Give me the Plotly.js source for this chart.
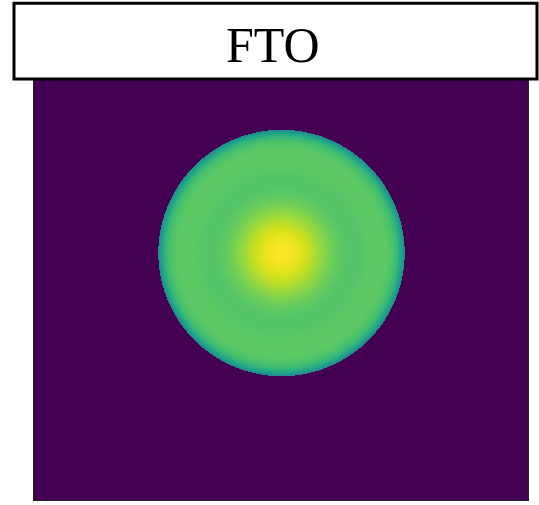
<!DOCTYPE html>
<html>
<head>
<meta charset="utf-8">
<script src="https://cdn.plot.ly/plotly-3.0.1.min.js"></script>
<style>html,body{margin:0;padding:0;background:#fff;}#chart{width:539px;height:505px;}</style>
</head>
<body>
<div id="chart"></div>
<script>
// Radial profile of the disk (fraction of radius -> normalized intensity)
const radialPosition = [0.00, 0.05, 0.10, 0.15, 0.20, 0.25, 0.30, 0.35, 0.40, 0.45, 0.50, 0.55, 0.60, 0.65, 0.70, 0.75, 0.80, 0.85, 0.90, 0.94, 0.97, 1.00];
const profileValue   = [1.00, 0.995, 0.98, 0.96, 0.93, 0.895, 0.855, 0.82, 0.785, 0.76, 0.74, 0.73, 0.73, 0.735, 0.745, 0.75, 0.75, 0.745, 0.72, 0.67, 0.59, 0.47];
const backgroundValue = 0;
const titleText = "FTO";

// grid geometry (1 px cells)
const nx = 494, ny = 425;
const cx = 247, cy = 246.5, R = 123.2;

function profileAt(r) {
  if (r > 1) return backgroundValue;
  for (let i = 1; i < radialPosition.length; i++) {
    if (r <= radialPosition[i]) {
      const t = (r - radialPosition[i-1]) / (radialPosition[i] - radialPosition[i-1]);
      return profileValue[i-1] + t * (profileValue[i] - profileValue[i-1]);
    }
  }
  return profileValue[profileValue.length - 1];
}

const z = [];
for (let j = 0; j < ny; j++) {
  const row = new Array(nx);
  for (let i = 0; i < nx; i++) {
    const r = Math.hypot(i - cx, j - cy) / R;
    row[i] = profileAt(r);
  }
  z.push(row);
}

const trace = {
  type: 'heatmap', z: z, colorscale: 'Viridis', zmin: 0, zmax: 1,
  showscale: false, zsmooth: 'fast', hoverinfo: 'skip'
};

const axisCommon = {showgrid: false, zeroline: false, showticklabels: false, ticks: '',
  showline: true, mirror: true, linecolor: '#222', linewidth: 1};

const layout = {
  width: 539, height: 505,
  margin: {l: 34, r: 11, t: 75, b: 5, pad: 0},
  paper_bgcolor: '#fff', plot_bgcolor: '#fff',
  xaxis: Object.assign({range: [-0.5, nx - 0.5]}, axisCommon),
  yaxis: Object.assign({range: [-0.5, ny - 0.5]}, axisCommon),
  shapes: [{
    type: 'rect', xref: 'paper', yref: 'paper', layer: 'above',
    x0: -0.0405, x1: 1.0182, y0: 0.9906, y1: 1.169,
    fillcolor: '#fff', line: {color: '#000', width: 3}
  }],
  annotations: [{
    xref: 'paper', yref: 'paper', x: 0.4843, y: 1.0706, xanchor: 'center', yanchor: 'middle',
    text: titleText, showarrow: false,
    font: {family: 'Liberation Serif, serif', size: 50, color: '#000'}
  }]
};

Plotly.newPlot('chart', [trace], layout, {displayModeBar: false, staticPlot: true});
</script>
</body>
</html>
